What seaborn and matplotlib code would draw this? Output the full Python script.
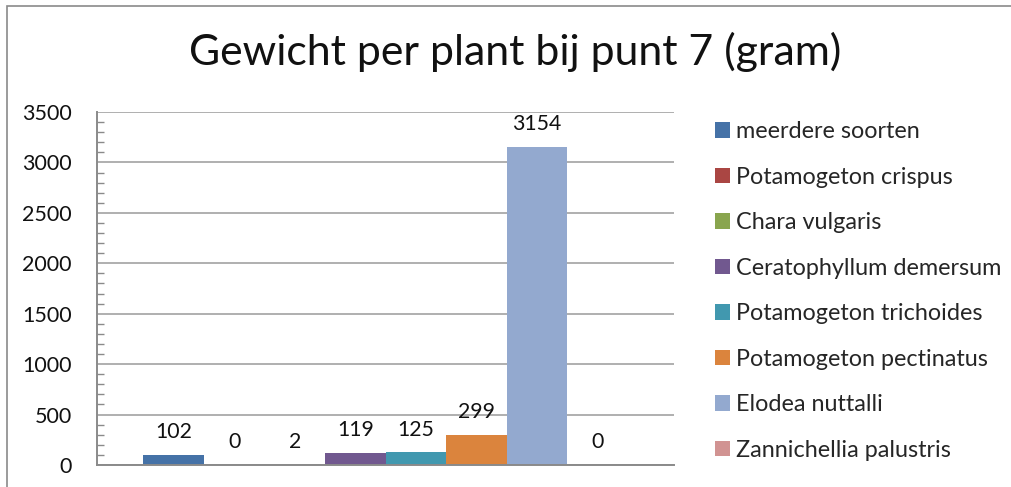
import numpy as np
import pandas as pd
import seaborn as sns
import matplotlib.pyplot as plt
from matplotlib.patches import Patch, Rectangle
from matplotlib.ticker import MultipleLocator

# gegevens
soorten = ['meerdere soorten', 'Potamogeton crispus', 'Chara vulgaris',
           'Ceratophyllum demersum', 'Potamogeton trichoides',
           'Potamogeton pectinatus', 'Elodea nuttalli', 'Zannichellia palustris']
gewicht = [102, 0, 2, 119, 125, 299, 3154, 0]
kleuren = ['#4572A7', '#AA4643', '#89A54E', '#71588F',
           '#4198AF', '#DB843D', '#93A9CF', '#D19392']
titel = 'Gewicht per plant bij punt 7 (gram)'

sns.set_style('white')
plt.rcParams['font.family'] = ['Lato', 'DejaVu Sans']

df = pd.DataFrame({'soort': soorten, 'gewicht': gewicht})

fig = plt.figure(figsize=(10.12, 4.87), dpi=100)
ax = fig.add_axes([97/1012, 22/487, 577/1012, 353/487])

sns.barplot(data=df, x='soort', y='gewicht', hue='soort', palette=kleuren,
            width=1, legend=False, ax=ax, saturation=1, linewidth=0)

for c in ax.containers:
    ax.bar_label(c, padding=9, fontsize=15.3, color='#111111')

ax.set_xlim(-1.266, 8.266)
ax.set_ylim(0, 3500)
ax.yaxis.set_major_locator(MultipleLocator(500))
ax.yaxis.set_minor_locator(MultipleLocator(100))
ax.set_xticks([])
ax.set_xlabel('')
ax.set_ylabel('')
ax.grid(axis='y', which='major', color='#9a9a9a', linewidth=1.1)
ax.set_axisbelow(True)
ax.tick_params(axis='y', which='major', length=0, pad=18, labelsize=15.5, labelcolor='#111111')
ax.tick_params(axis='y', which='minor', direction='in', length=5, width=1, color='#8a8a8a', left=True)
for s in ['top', 'right']:
    ax.spines[s].set_visible(False)
for s in ['left', 'bottom']:
    ax.spines[s].set_color('#8a8a8a')
    ax.spines[s].set_linewidth(1.4)

handles = [Patch(facecolor=k, edgecolor='none') for k in kleuren]
fig.legend(handles, soorten, loc='upper left', bbox_to_anchor=(706/1012, 1 - 112/487),
           frameon=False, fontsize=16.8, handlelength=0.64, handleheight=0.64,
           handletextpad=0.25, labelspacing=1.05, borderaxespad=0)

fig.text(515/1012, 1 - 52/487, titel, ha='center', va='center', fontsize=30.8, color='#111111')

fig.patches.append(Rectangle((7/1012, -0.1), 1.2, 1.1 - 6/487, transform=fig.transFigure,
                             fill=False, edgecolor='#8a8a8a', linewidth=1.2))

fig.savefig('out.png', dpi=100)
